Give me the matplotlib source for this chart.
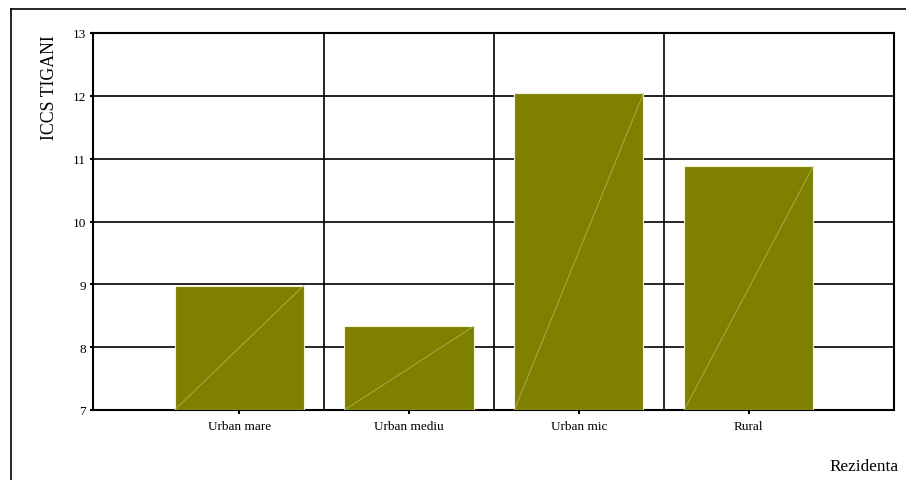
import matplotlib.pyplot as plt
from matplotlib.lines import Line2D
import numpy as np

plt.rcParams["font.family"] = ["Liberation Serif", "DejaVu Serif"]

categories = ["Urban mare", "Urban mediu", "Urban mic", "Rural"]
values = [8.98, 8.33, 12.04, 10.88]
y_ticks = [7, 8, 9, 10, 11, 12, 13]

W, H = 906, 481
fig = plt.figure(figsize=(W / 100, H / 100), dpi=100)
ax = fig.add_axes([93 / W, 1 - 411 / H, (894 - 93) / W, (411 - 34) / H])

x = np.arange(len(categories))
width = 0.76
ax.bar(x, np.array(values) - 7, bottom=7, width=width, color="#808000",
       edgecolor="#f4f4dc", linewidth=0.8, zorder=3)
# faint diagonal inside each bar
for xi, v in zip(x, values):
    ax.plot([xi - width / 2, xi + width / 2], [7, v], color="#b0b060",
            linewidth=0.6, zorder=4)

ax.set_xlim(-0.86, 3.855)
ax.set_ylim(7, 13)
ax.set_yticks(y_ticks)
ax.set_yticklabels([str(t) for t in y_ticks], fontsize=9.5)
ax.set_xticks(x)
ax.set_xticklabels(categories, fontsize=9.5)
ax.tick_params(axis="y", length=2, width=1.5, pad=3)
ax.tick_params(axis="x", length=3, width=1.5, pad=4)
ax.grid(axis="y", color="black", linewidth=1.2, zorder=1)
for b in [0.5, 1.5, 2.5]:
    ax.axvline(b, color="black", linewidth=1.2, zorder=1)
for s in ax.spines.values():
    s.set_linewidth(1.5)

fig.text(49 / W, 1 - 88 / H, "ICCS TIGANI", rotation=90, fontsize=12.8,
         ha="center", va="center")
fig.text(899 / W, 1 - 467 / H, "Rezidenta", fontsize=12.4, ha="right", va="center")

fig.add_artist(Line2D([11 / W, 11 / W], [0, 1 - 10 / H], color="black",
                      linewidth=1.2, transform=fig.transFigure))
fig.add_artist(Line2D([11 / W, 1], [1 - 10 / H, 1 - 10 / H], color="black",
                      linewidth=1.2, transform=fig.transFigure))

fig.savefig("out.png", dpi=100)
